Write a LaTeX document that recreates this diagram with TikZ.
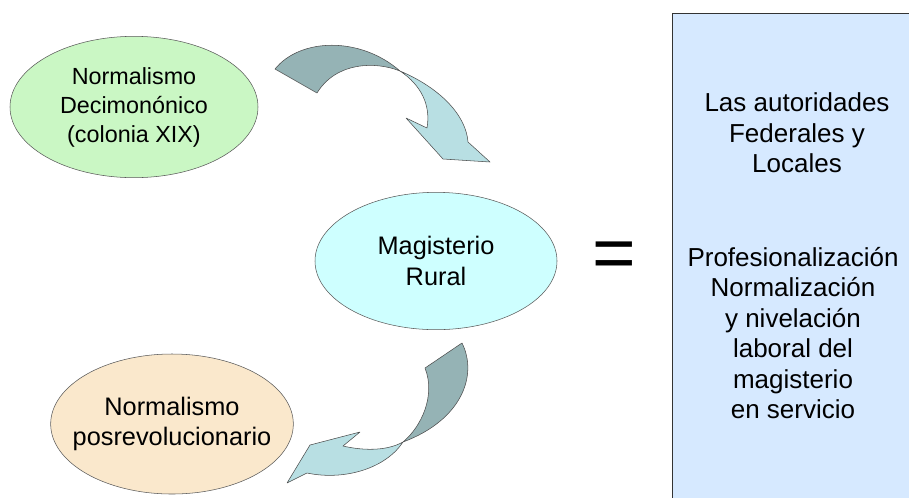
\documentclass[tikz,border=0pt]{standalone}
\usepackage{fontspec}
\setmainfont{Liberation Sans}
\usetikzlibrary{shapes}

\definecolor{decgreen}{RGB}{202,247,196}
\definecolor{rurcyan}{RGB}{206,255,255}
\definecolor{posbeige}{RGB}{250,232,204}
\definecolor{boxblue}{RGB}{214,233,255}
\definecolor{arrowdark}{RGB}{149,179,181}
\definecolor{arrowlight}{RGB}{184,223,227}

\begin{document}
\begin{tikzpicture}[x=0.75pt,y=-0.75pt,
			oval node/.style={ellipse,draw=black!65,thin,inner sep=0pt,align=center,font=\fontsize{19}{23}\selectfont},
			green node/.style={oval node,fill=decgreen,minimum width=186pt,minimum height=106pt,font=\fontsize{17.5}{21.75}\selectfont},
			cyan node/.style={oval node,fill=rurcyan,minimum width=181.5pt,minimum height=103pt},
			beige node/.style={oval node,fill=posbeige,minimum width=182pt,minimum height=105pt,inner xsep=-25pt},
			box text/.style={align=center,inner sep=0pt,font=\fontsize{19.5}{22.8}\selectfont},
			arrow back/.style={fill=arrowdark,draw=black!70,thin,line join=round},
			arrow front/.style={fill=arrowlight,draw=black!70,thin,line join=round}
			]

			\useasboundingbox (0,0) rectangle (909,497);
			\clip (0,0) rectangle (909,497);

			% right panel
			\fill[boxblue] (672,13) rectangle (930,520);
			\draw[black!80] (672,520) -- (672,13) -- (930,13);
			\node[box text] at (797,133) (auth) {Las autoridades\\Federales y\\Locales};
			\node[box text] at (793,333) (prof) {Profesionalización\\Normalización\\y nivelación\\laboral del\\magisterio\\en servicio};

			\node[green node] at (134,107) (dec) {Normalismo\\Decimonónico\\(colonia XIX)};
			\node[cyan node] at (436,261) (rur) {Magisterio\\Rural};
			\node[beige node] at (172,424) (pos) {Normalismo\\posrevolucionario};

			\node[anchor=base,inner sep=0pt,font=\fontsize{56}{56}\selectfont] at (614,278) (eq) {=};

			% upper curved arrow
			\draw[arrow back] (275,69) .. controls (300,38) and (360,36) .. (400,71)
				.. controls (375,61) and (336,62) .. (317,93) -- cycle;
			\draw[arrow front] (400,71) .. controls (440,88) and (466,115) .. (468,142)
				-- (490,162) -- (443,159) -- (406,118) -- (427,128)
				.. controls (431,105) and (421,85) .. (400,71) -- cycle;

			% lower curved arrow
			\draw[arrow back] (462,343) .. controls (478,375) and (462,420) .. (403,442)
				.. controls (421,427) and (436,396) .. (425,368) -- cycle;
			\draw[arrow front] (403,442) .. controls (385,452) and (360,450) .. (343,446)
				-- (360,432) -- (310,445) -- (287,483) -- (307,473)
				.. controls (345,481) and (386,468) .. (403,442) -- cycle;
		\end{tikzpicture}
\end{document}
